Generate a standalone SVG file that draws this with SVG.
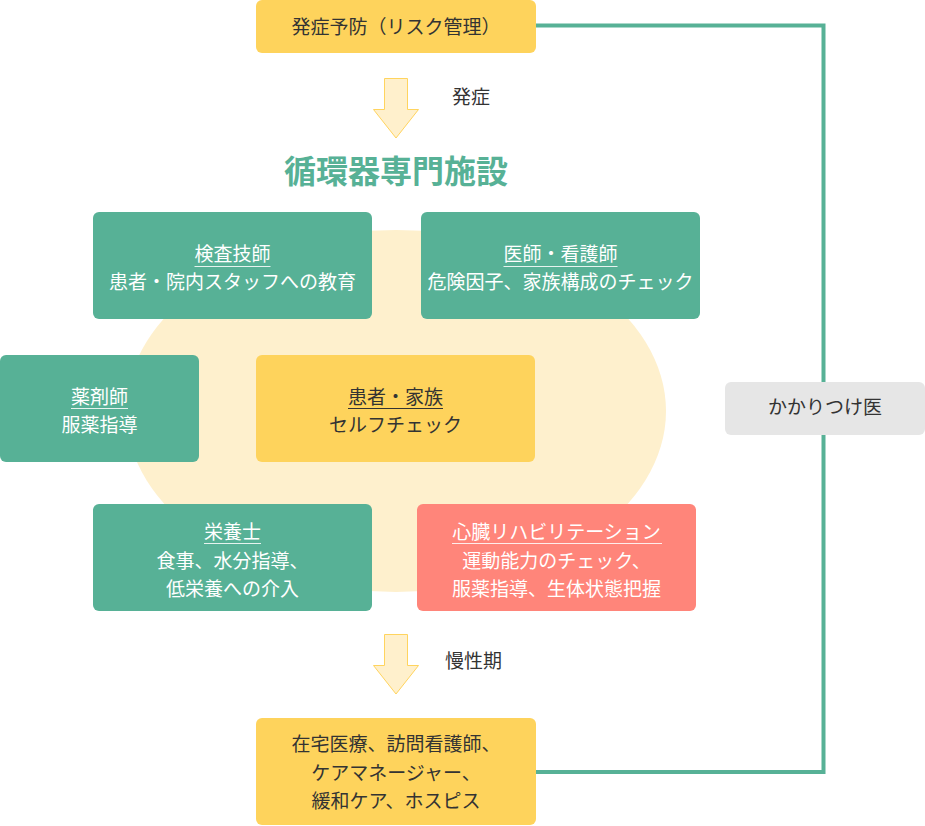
<svg xmlns="http://www.w3.org/2000/svg" width="925" height="826" viewBox="0 0 925 826">
<style>
text{font-family:"Noto Sans CJK JP","Noto Sans",sans-serif;font-size:19px;text-anchor:middle}
.w{fill:#ffffff}
.d{fill:#333333}
.green{fill:#57b196}
.yellow{fill:#fed35c}
.salmon{fill:#ff857a}
.gray{fill:#e6e6e6}
.ulw{stroke:#ffffff;stroke-opacity:0.85;stroke-width:1.2}
.uld{stroke:#333333;stroke-width:1.2}
.arrow{fill:#fff0cc;stroke:#ffd45e;stroke-width:1}
.conn{fill:none;stroke:#57b196;stroke-width:4}
</style>
<rect width="925" height="826" fill="#ffffff"/>
<ellipse cx="396" cy="411" rx="270" ry="181" fill="#fef0cd"/>
<g id="connectors">
<path class="conn" d="M536 25.5 H823.5 V772 H536"/>
<polygon class="arrow" points="384.5,78.5 407.5,78.5 407.5,109.5 418.5,109.5 396,138 373.5,109.5 384.5,109.5"/>
<polygon class="arrow" points="384.5,634.5 407.5,634.5 407.5,665.5 418.5,665.5 396,694 373.5,665.5 384.5,665.5"/>
<text class="d" x="452" y="104" style="text-anchor:start">発症</text>
<text class="d" x="445" y="668" style="text-anchor:start">慢性期</text>
</g>
<g id="prevention">
<rect class="yellow" x="256" y="0" width="280" height="53" rx="6"/>
<text class="d" x="396" y="34">発症予防（リスク管理）</text>
</g>
<g id="title">
<text x="396" y="183" style="font-size:32px;font-weight:bold;fill:#57b196">循環器専門施設</text>
</g>
<g id="kensa">
<rect class="green" x="93" y="212" width="279" height="107" rx="6"/>
<text class="w" x="232.5" y="261">検査技師</text>
<line class="ulw" x1="194.5" y1="266.5" x2="270.5" y2="266.5"/>
<text class="w" x="232.5" y="289">患者・院内スタッフへの教育</text>
</g>
<g id="ishi">
<rect class="green" x="421" y="212" width="279" height="107" rx="6"/>
<text class="w" x="560.5" y="261">医師・看護師</text>
<line class="ulw" x1="503.5" y1="266.5" x2="617.5" y2="266.5"/>
<text class="w" x="560.5" y="289">危険因子、家族構成のチェック</text>
</g>
<g id="yakuzai">
<rect class="green" x="0" y="355" width="199" height="107" rx="6"/>
<text class="w" x="99.5" y="404">薬剤師</text>
<line class="ulw" x1="71" y1="408.5" x2="128" y2="408.5"/>
<text class="w" x="99.5" y="432">服薬指導</text>
</g>
<g id="kanja">
<rect class="yellow" x="256" y="355" width="279" height="107" rx="6"/>
<text class="d" x="395.5" y="404">患者・家族</text>
<line class="uld" x1="348" y1="408.5" x2="443" y2="408.5"/>
<text class="d" x="395.5" y="432">セルフチェック</text>
</g>
<g id="eiyou">
<rect class="green" x="93" y="504" width="279" height="107" rx="6"/>
<text class="w" x="232.5" y="539">栄養士</text>
<line class="ulw" x1="204" y1="543.5" x2="261" y2="543.5"/>
<text class="w" x="232.5" y="568">食事、水分指導、</text>
<text class="w" x="232.5" y="596">低栄養への介入</text>
</g>
<g id="rehab">
<rect class="salmon" x="417" y="504" width="279" height="107" rx="6"/>
<text class="w" x="556.5" y="539">心臓リハビリテーション</text>
<line class="ulw" x1="452" y1="543.5" x2="662" y2="543.5"/>
<text class="w" x="556.5" y="568">運動能力のチェック、</text>
<text class="w" x="556.5" y="596">服薬指導、生体状態把握</text>
</g>
<g id="kakaritsuke">
<rect class="gray" x="725" y="382" width="200" height="53" rx="6"/>
<text class="d" x="825" y="414">かかりつけ医</text>
</g>
<g id="zaitaku">
<rect class="yellow" x="256" y="718" width="280" height="107" rx="6"/>
<text class="d" x="396" y="751">在宅医療、訪問看護師、</text>
<text class="d" x="396" y="779.5">ケアマネージャー、</text>
<text class="d" x="396" y="808">緩和ケア、ホスピス</text>
</g>
</svg>
